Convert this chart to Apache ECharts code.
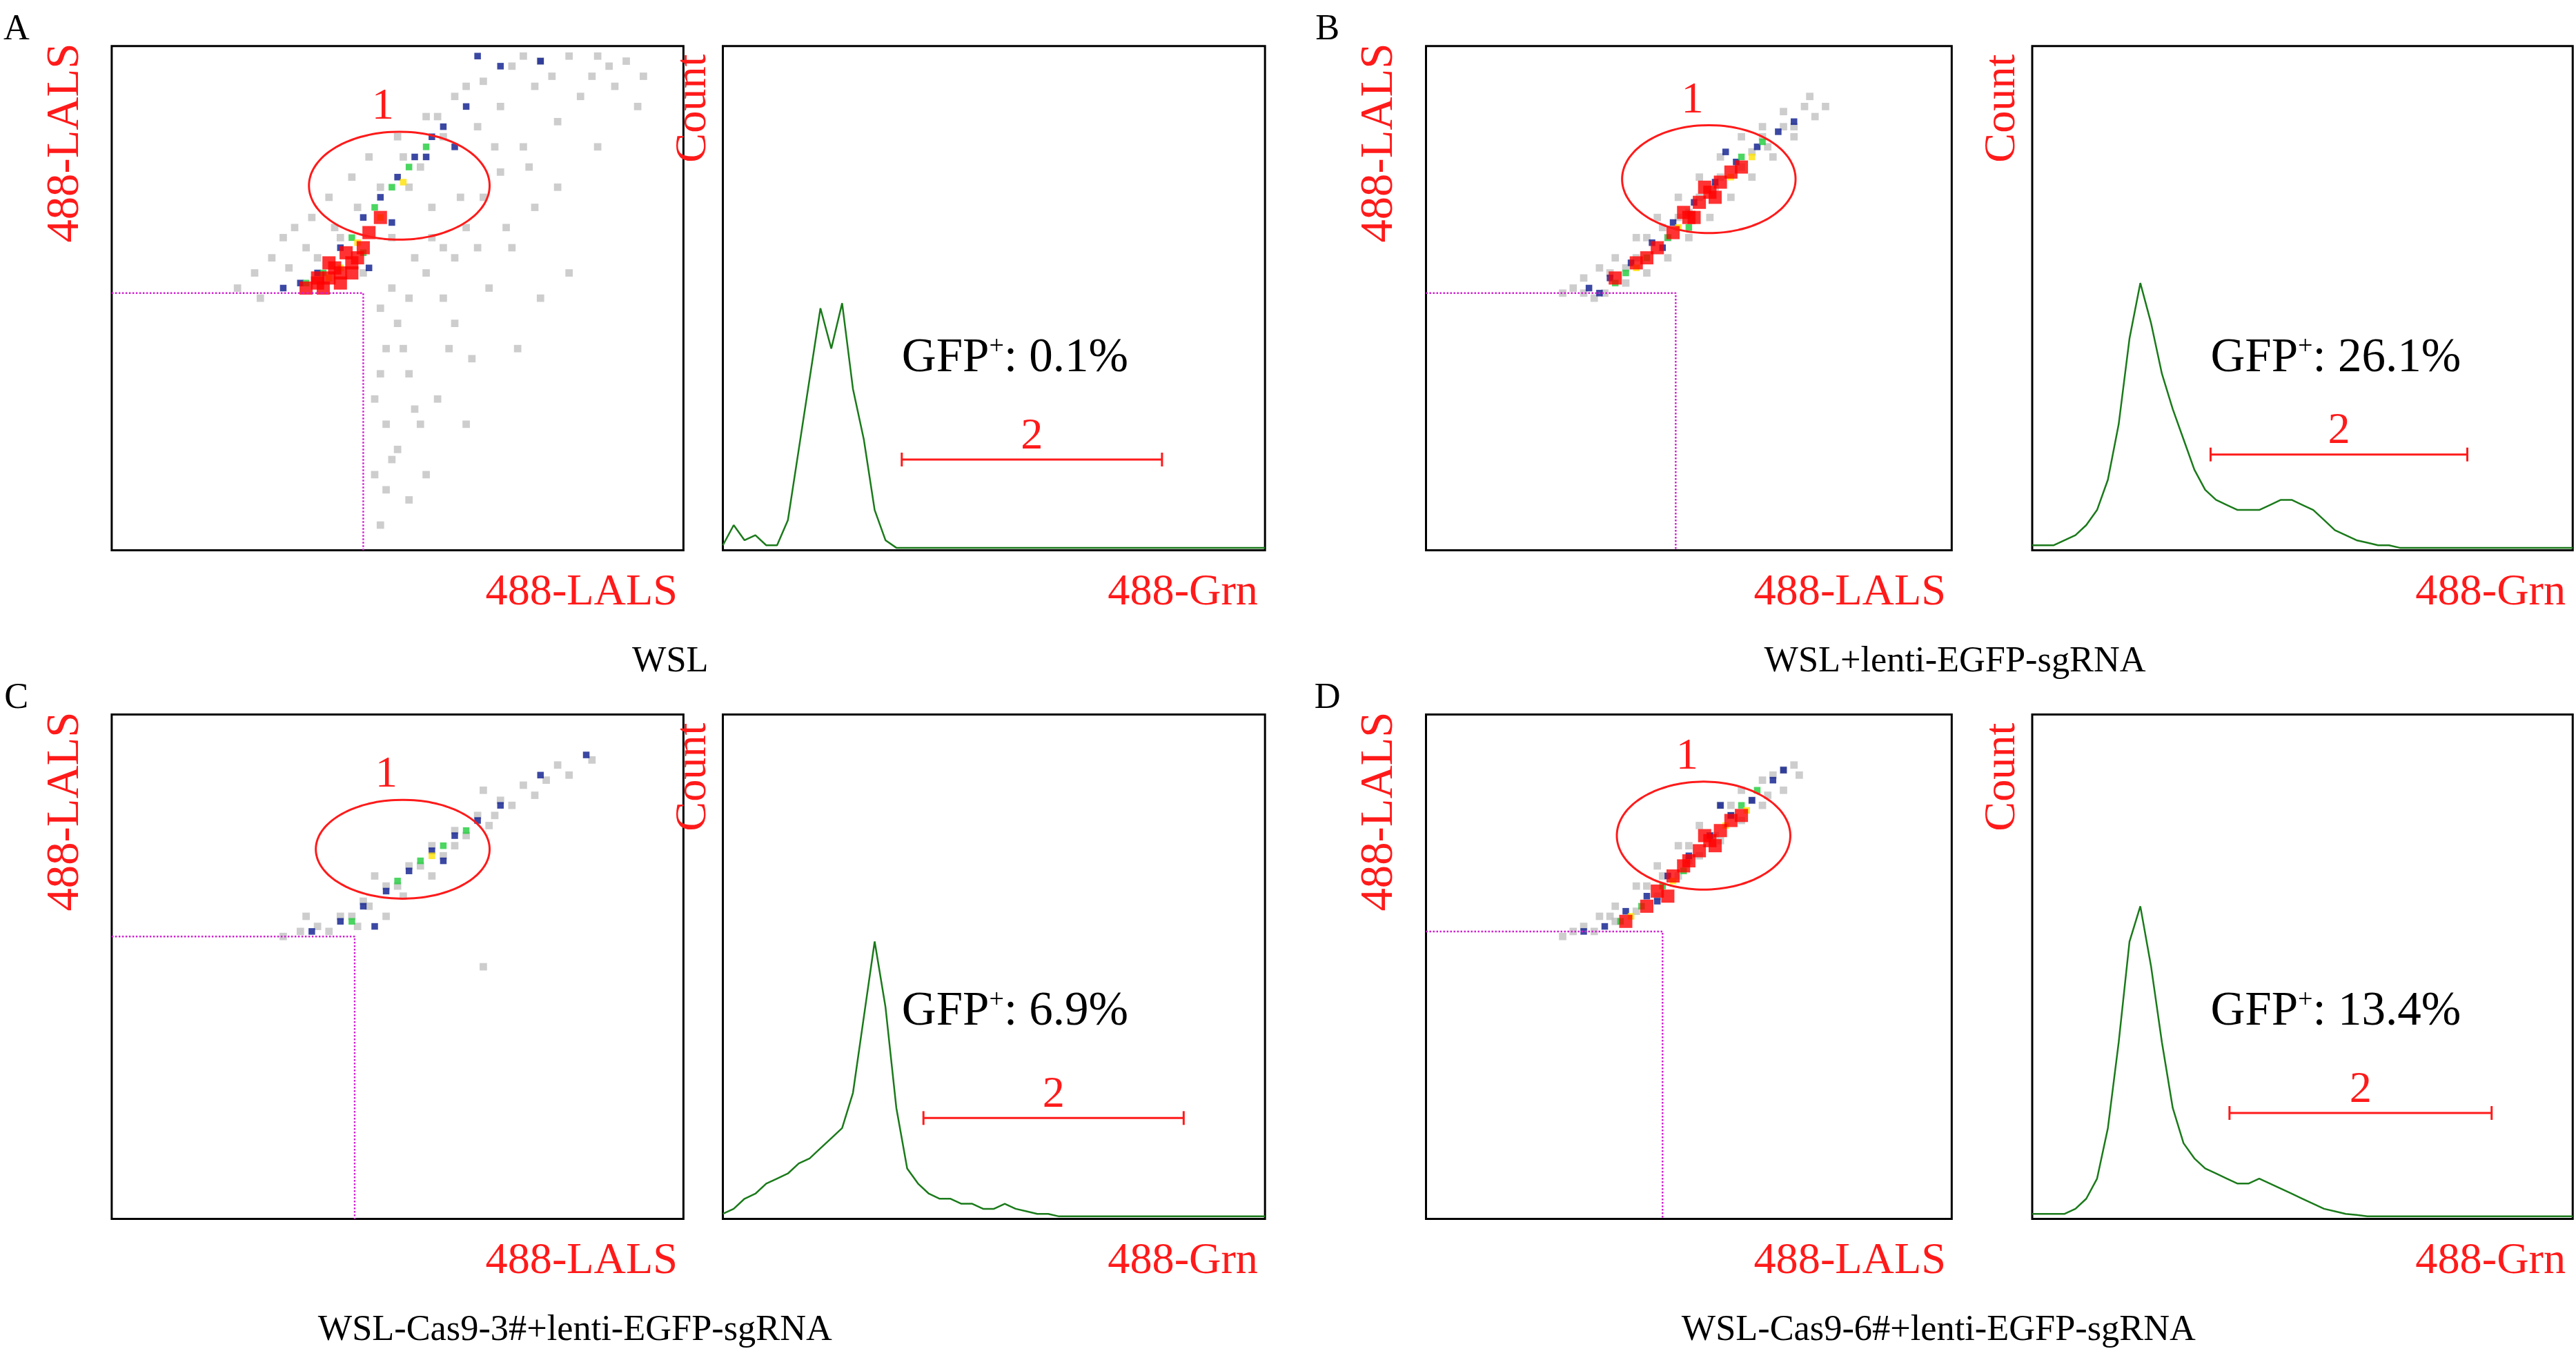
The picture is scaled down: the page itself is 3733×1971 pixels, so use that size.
<!DOCTYPE html>
<html><head><meta charset="utf-8">
<script src="https://cdn.jsdelivr.net/npm/echarts@6/dist/echarts.min.js"></script>
<style>html,body{margin:0;padding:0;background:#fff}#c{width:3733px;height:1971px}</style>
</head><body><div id="c"></div>
<script>
// ---------- DATA (0-100 scale on both axes) ----------
const panelLetters = ['A','B','C','D'];
const captions = ['WSL','WSL+lenti-EGFP-sgRNA','WSL-Cas9-3#+lenti-EGFP-sgRNA','WSL-Cas9-6#+lenti-EGFP-sgRNA'];
const gfpValues = ['0.1%','26.1%','6.9%','13.4%'];
const gateX = [44, 47.5, 42.5, 45];
const gateY = [51, 51, 56, 57];
const ellipseCenters = [[50.3,72.3],[53.8,73.6],[50.9,73.3],[52.8,76]];
const ellipseRadii = [[15.8,10.7],[16.5,10.7],[15.2,9.8],[16.5,10.7]];
const rangeBars = [[33,81,18],[33,80.5,19],[37,85,20],[36.5,85,21]];

const grayA = [[22,52],[25,55],[28,58],[30,62],[35,66],[38,70],[42,74],[45,78],[50,82],[55,86],[60,90],[65,93],[70,96],[75,97],[80,98],[85,98],[90,97],[93,94],[88,92],[82,90],[78,85],[72,80],[68,75],[65,70],[62,64],[58,60],[55,55],[52,50],[50,45],[48,40],[47,35],[46,30],[48,25],[50,20],[46,15],[52,10],[60,45],[63,38],[66,52],[70,60],[74,68],[78,72],[56,68],[52,72],[40,62],[36,58],[44,55],[49,62],[54,76],[58,82],[64,84],[92,88],[85,80],[75,50],[80,55],[57,30],[55,15],[47,5],[62,25],[71,40],[26,50],[32,64],[60,58],[68,88],[74,92],[84,94],[52,35],[58,50],[64,60],[54,25],[31,56],[34,60],[39,64],[43,68],[47,72],[51,78],[57,86],[62,92],[72,98],[87,96],[77,94],[67,80],[61,70],[56,62],[53,58],[49,52],[47,48],[51,40],[53,28],[49,18],[48,12],[59,40],[69,64],[73,76]];
const blueA = [[33,53],[36,55],[40,60],[44,66],[47,70],[50,74],[53,78],[56,82],[58,84],[62,88],[68,96],[75,97],[60,80],[49,65],[45,56],[30,52],[64,98],[55,78]];
const greenA = [[37,55],[42,62],[46,68],[49,72],[52,76],[55,80],[44,59],[34,53]];
const yellowA = [[38,54],[43,61],[47,66],[51,73],[40,56]];
const redA = [[34,52],[36,53],[38,54],[40,55],[42,57],[44,60],[45,63],[47,66],[37,52],[40,53],[42,55],[39,56],[43,58],[36,54],[41,59],[38,57]];

const grayB = [[28,52],[30,54],[33,56],[36,58],[40,62],[44,66],[48,70],[52,74],[56,78],[60,82],[64,84],[68,87],[72,88],[74,86],[70,82],[66,78],[62,74],[58,70],[54,66],[50,62],[46,58],[42,55],[38,53],[34,51],[32,50],[45,64],[55,72],[65,80],[70,84],[60,76],[40,58],[50,67],[35,55],[52,70],[62,79],[26,51],[73,90],[76,88],[42,62],[48,66],[56,74],[64,82],[68,84],[38,56],[30,51],[46,62]];
const blueB = [[31,52],[35,54],[39,57],[43,61],[47,65],[51,69],[55,73],[59,77],[63,80],[67,83],[70,85],[57,79],[45,60],[33,51]];
const greenB = [[38,55],[42,58],[46,62],[60,78],[64,81],[50,64],[36,53]];
const yellowB = [[40,56],[48,64],[58,74],[62,78]];
const redB = [[44,60],[47,63],[50,66],[52,69],[54,71],[56,73],[58,75],[60,76],[49,67],[53,72],[36,54],[40,57],[42,58],[55,70],[51,66]];

const grayC = [[30,56],[33,57],[36,58],[40,60],[44,63],[48,66],[52,70],[56,74],[60,77],[64,80],[68,83],[72,86],[76,87],[80,88],[74,84],[66,78],[58,72],[50,66],[42,60],[38,57],[45,62],[54,70],[62,76],[70,82],[48,60],[56,68],[65,85],[65,50],[34,60],[46,68],[78,90],[84,91],[43,58],[51,64],[60,74],[67,80]];
const blueC = [[35,57],[40,59],[44,62],[48,65],[52,69],[56,73],[60,76],[64,79],[68,82],[75,88],[46,58],[58,71],[83,92]];
const greenC = [[50,67],[54,71],[58,74],[62,77],[42,59]];
const yellowC = [[56,72]];
const redC = [];

const grayD = [[28,57],[30,58],[33,60],[36,62],[40,66],[44,70],[48,74],[52,78],[56,82],[60,85],[64,87],[68,89],[70,90],[71,88],[68,85],[64,82],[60,79],[56,75],[52,72],[48,68],[44,64],[40,61],[36,59],[32,57],[45,68],[55,76],[65,84],[58,80],[50,71],[35,60],[62,83],[26,56],[42,66],[50,74],[58,82],[66,88]];
const blueD = [[30,57],[34,58],[38,61],[42,64],[46,68],[50,72],[54,76],[58,80],[62,83],[66,87],[68,89],[56,82],[44,63]];
const greenD = [[37,59],[41,62],[45,66],[60,82],[63,85],[49,69]];
const yellowD = [[39,60],[47,67],[57,78],[61,81]];
const redD = [[44,65],[47,68],[50,71],[52,73],[54,75],[56,77],[58,79],[60,80],[49,70],[53,76],[38,59],[42,62],[46,64],[55,74]];

const histX = [0,2,4,6,8,10,12,14,16,18,20,22,24,26,28,30,32,34,36,38,40,42,44,46,48,50,52,54,56,58,60,62,64,66,68,70,72,74,76,78,80,82,84,86,88,90,92,94,96,98,100];
const histA = [1,5,2,3,1,1,6,20,34,48,40,49,32,22,8,2,0.5,0.5,0.5,0.5,0.5,0.5,0.5,0.5,0.5,0.5,0.5,0.5,0.5,0.5,0.5,0.5,0.5,0.5,0.5,0.5,0.5,0.5,0.5,0.5,0.5,0.5,0.5,0.5,0.5,0.5,0.5,0.5,0.5,0.5,0.5];
const histB = [1,1,1,2,3,5,8,14,25,42,53,45,35,28,22,16,12,10,9,8,8,8,9,10,10,9,8,6,4,3,2,1.5,1,1,0.5,0.5,0.5,0.5,0.5,0.5,0.5,0.5,0.5,0.5,0.5,0.5,0.5,0.5,0.5,0.5,0.5];
const histC = [1,2,4,5,7,8,9,11,12,14,16,18,25,40,55,42,22,10,7,5,4,4,3,3,2,2,3,2,1.5,1,1,0.5,0.5,0.5,0.5,0.5,0.5,0.5,0.5,0.5,0.5,0.5,0.5,0.5,0.5,0.5,0.5,0.5,0.5,0.5,0.5];
const histD = [1,1,1,1,2,4,8,18,35,55,62,50,35,22,15,12,10,9,8,7,7,8,7,6,5,4,3,2,1.5,1,0.8,0.5,0.5,0.5,0.5,0.5,0.5,0.5,0.5,0.5,0.5,0.5,0.5,0.5,0.5,0.5,0.5,0.5,0.5,0.5,0.5];

const scatterSets = [
  [grayA,blueA,greenA,yellowA,redA],[grayB,blueB,greenB,yellowB,redB],
  [grayC,blueC,greenC,yellowC,redC],[grayD,blueD,greenD,yellowD,redD]];
const hists = [histA,histB,histC,histD];

// ---------- LAYOUT (reference-thumbnail units, scaled) ----------
const S = 3733/1568;
const scatBoxes = [[68,28,348,307],[868,28,320,307],[68,435,348,307],[868,435,320,307]];
const histBoxes = [[440,28,330,307],[1237,28,329,307],[440,435,330,307],[1237,435,329,307]];
const FONT = '"Liberation Serif","Times New Roman",serif';
const RED = '#ff1a1a';

const grid=[],xAxis=[],yAxis=[],series=[],graphic=[];
function addGrid(b){
  grid.push({left:b[0]*S,top:b[1]*S,width:b[2]*S,height:b[3]*S,show:true,borderColor:'#000',borderWidth:3,backgroundColor:'#fff'});
  const i=grid.length-1;
  xAxis.push({gridIndex:i,type:'value',min:0,max:100,show:false});
  yAxis.push({gridIndex:i,type:'value',min:0,max:100,show:false});
  return i;
}
function txt(x,y,t,size,color,extra){
  graphic.push(Object.assign({type:'text',x:x*S,y:y*S,style:{text:t,font:`${size*S}px ${FONT}`,fill:color,textAlign:'center',textVerticalAlign:'middle'}},extra||{}));
}
const heatColors=['#c0c0c0','#0a1a8c','#1ecc3a','#ffe100','#ff0000'];
const heatSizes=[4.5*S,4*S,4*S,4*S,8*S];
const capX=[408,1190,350,1180];
for(let p=0;p<4;p++){
  const sb=scatBoxes[p], hb=histBoxes[p];
  const gi=addGrid(sb);
  scatterSets[p].forEach((d,k)=>series.push({type:'scatter',xAxisIndex:gi,yAxisIndex:gi,data:d,symbol:'rect',symbolSize:heatSizes[k],itemStyle:{color:heatColors[k]},silent:true,z:2+k}));
  series.push({type:'line',xAxisIndex:gi,yAxisIndex:gi,data:[[0,gateY[p]],[gateX[p],gateY[p]],[gateX[p],0]],symbol:'none',lineStyle:{color:'#d020d0',width:2.5,type:'dotted'},z:10});
  const c=ellipseCenters[p],r=ellipseRadii[p],el=[];
  for(let a=0;a<=72;a++){const t=a/72*2*Math.PI;el.push([c[0]+r[0]*Math.cos(t),c[1]+r[1]*Math.sin(t)]);}
  series.push({type:'line',xAxisIndex:gi,yAxisIndex:gi,data:el,symbol:'none',smooth:true,lineStyle:{color:RED,width:3},z:11});
  txt(sb[0]+sb[2]*c[0]/100-10, sb[1]+sb[3]*(1-(c[1]+r[1])/100)-15,'1',27,RED);
  const hi=addGrid(hb);
  series.push({type:'line',xAxisIndex:hi,yAxisIndex:hi,data:histX.map((x,j)=>[x,hists[p][j]]),symbol:'none',lineStyle:{color:'#1a7a1a',width:2.5},z:5});
  const rb=rangeBars[p];
  series.push({type:'line',xAxisIndex:hi,yAxisIndex:hi,data:[[rb[0],rb[2]],[rb[1],rb[2]]],symbol:'rect',symbolSize:[3,20],itemStyle:{color:RED},lineStyle:{color:RED,width:3},z:6});
  txt(hb[0]+hb[2]*(rb[0]+rb[1])/200, hb[1]+hb[3]*(1-rb[2]/100)-14,'2',27,RED);
  graphic.push({type:'text',x:(hb[0]+hb[2]*0.33)*S,y:(hb[1]+hb[3]*(p<2?0.62:0.59))*S,style:{rich:{a:{font:`${29*S}px ${FONT}`,fill:'#000'},s:{font:`${16*S}px ${FONT}`,fill:'#000',verticalAlign:'top',padding:[0,0,34,0]}},text:`{a|GFP}{s|+}{a|: ${gfpValues[p]}}`,textVerticalAlign:'middle'}});
  txt(sb[0]-28, sb[1]+59,'488-LALS',28,RED,{rotation:Math.PI/2});
  txt(hb[0]-18, hb[1]+38,'Count',27,RED,{rotation:Math.PI/2});
  txt(sb[0]+sb[2]-62, sb[1]+sb[3]+26,'488-LALS',27,RED);
  txt(hb[0]+hb[2]-50, hb[1]+hb[3]+26,'488-Grn',27,RED);
  txt(capX[p], sb[1]+sb[3]+68, captions[p],22,'#000');
  txt(p%2?808:10, sb[1]-10, panelLetters[p],22,'#000');
}
const chart=echarts.init(document.getElementById('c'));
chart.setOption({animation:false,backgroundColor:'#fff',grid,xAxis,yAxis,series,graphic});
</script></body></html>
